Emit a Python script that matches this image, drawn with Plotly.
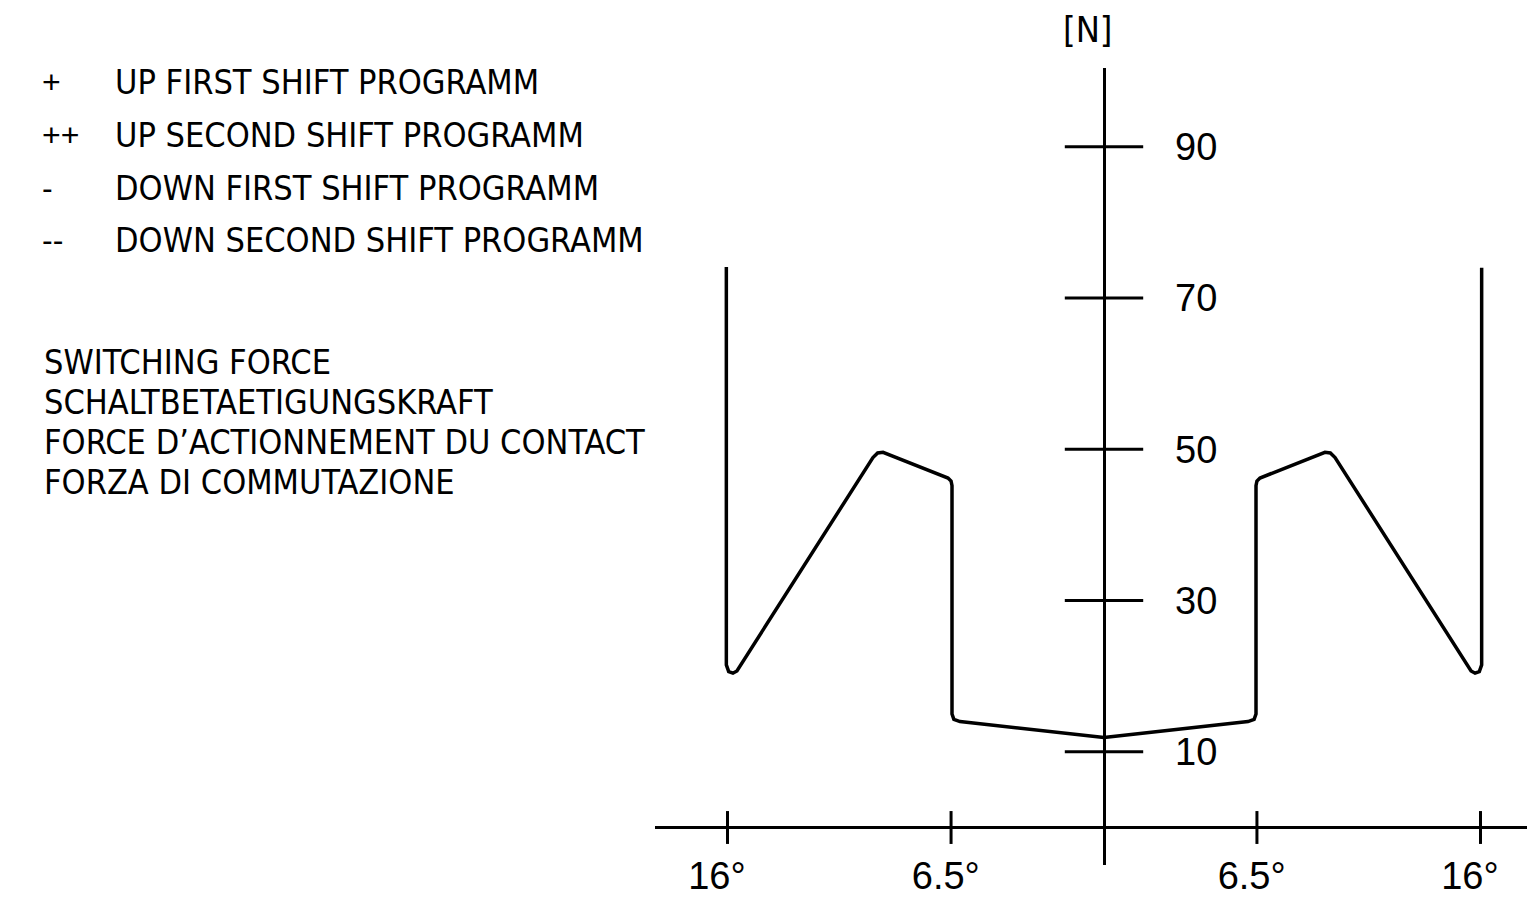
import plotly.graph_objects as go

W, H = 1527, 900

# ---- data (switching force [N] vs. lever angle [deg]) ----
angle_left = [-16.05, -16.05, -15.95, -15.77, -15.60, -9.82, -9.62, -9.39, -6.63, -6.50, -6.46, -6.46, -6.38, -6.12, 0.0]
force_left = [74.1, 21.5, 20.6, 20.4, 20.7, 48.9, 49.5, 49.6, 46.2, 45.8, 45.2, 15.0, 14.3, 14.0, 11.9]
angle_right = [0.0, 6.12, 6.38, 6.46, 6.46, 6.50, 6.63, 9.39, 9.62, 9.82, 15.60, 15.77, 15.95, 16.05, 16.05]
force_right = [11.9, 14.0, 14.3, 15.0, 45.2, 45.8, 46.2, 49.6, 49.5, 48.9, 20.7, 20.4, 20.6, 21.5, 74.0]

y_ticks = [10, 30, 50, 70, 90]
x_ticks = [-16, -6.5, 6.5, 16]
x_tick_text = ["16°\u00a0\u00a0", "6.5°\u00a0", "6.5°\u00a0", "16°\u00a0\u00a0"]
y_unit = "[N]"

legend_symbols = ["+", "++", "-", "--"]
legend_texts = ["UP FIRST SHIFT PROGRAMM", "UP SECOND SHIFT PROGRAMM",
                "DOWN FIRST SHIFT PROGRAMM", "DOWN SECOND SHIFT PROGRAMM"]
title_lines = ["SWITCHING FORCE", "SCHALTBETAETIGUNGSKRAFT",
               "FORCE D’ACTIONNEMENT DU CONTACT", "FORZA DI COMMUTAZIONE"]

# ---- layout geometry (pixels) ----
plot_left, plot_right, plot_top, plot_bottom = 655, 1527, 68, 865
x_label_axis_px = 850
x0_px, px_per_deg = 1104, 23.53
y0_px, px_per_N = 827.5, 7.565

FONT_NARROW = "Liberation Sans Narrow, Arial Narrow, DejaVu Sans Condensed, sans-serif"
FONT_TICK = "Liberation Sans, Arial, sans-serif"
TXT = 34

fig = go.Figure()
line_style = dict(color="black", width=3.5)
fig.add_trace(go.Scatter(x=angle_left, y=force_left, mode="lines", line=line_style,
                         hoverinfo="skip", showlegend=False))
fig.add_trace(go.Scatter(x=angle_right, y=force_right, mode="lines", line=line_style,
                         hoverinfo="skip", showlegend=False))
# crossing tick marks on the axes
fig.add_trace(go.Scatter(x=[0] * len(y_ticks), y=y_ticks, mode="markers",
                         marker=dict(symbol="line-ew", size=56, color="black",
                                     line=dict(color="black", width=3)),
                         hoverinfo="skip", showlegend=False))
fig.add_trace(go.Scatter(x=x_ticks, y=[0] * len(x_ticks), mode="markers",
                         marker=dict(symbol="line-ns", size=23.5, color="black",
                                     line=dict(color="black", width=3)),
                         hoverinfo="skip", showlegend=False))

annotations = []
for i, (s, t) in enumerate(zip(legend_symbols, legend_texts)):
    yc = 82 + i * 52.8
    annotations.append(dict(x=40 / W, y=1 - yc / H, xref="paper", yref="paper", text=s,
                            showarrow=False, xanchor="left", yanchor="middle",
                            font=dict(family=FONT_TICK, size=32, color="black")))
    annotations.append(dict(x=113 / W, y=1 - yc / H, xref="paper", yref="paper", text=t,
                            showarrow=False, xanchor="left", yanchor="middle",
                            font=dict(family=FONT_NARROW, size=TXT, color="black")))
for i, t in enumerate(title_lines):
    yc = 362 + i * 40
    annotations.append(dict(x=42 / W, y=1 - yc / H, xref="paper", yref="paper", text=t,
                            showarrow=False, xanchor="left", yanchor="middle",
                            font=dict(family=FONT_NARROW, size=TXT, color="black")))
annotations.append(dict(x=1088 / W, y=1 - 30 / H, xref="paper", yref="paper", text=y_unit,
                        showarrow=False, xanchor="center", yanchor="middle",
                        font=dict(family=FONT_NARROW, size=36, color="black")))

fig.update_layout(
    width=W, height=H, margin=dict(l=0, r=0, t=0, b=0, autoexpand=False),
    paper_bgcolor="white", plot_bgcolor="white",
    showlegend=False, annotations=annotations,
    xaxis=dict(range=[(plot_left - x0_px) / px_per_deg, (plot_right - x0_px) / px_per_deg],
               domain=[plot_left / W, 1], anchor="free", position=1 - x_label_axis_px / H,
               automargin=False,
               showgrid=False, showline=False, ticks="",
               zeroline=True, zerolinecolor="black", zerolinewidth=3,
               tickvals=x_ticks, ticktext=x_tick_text,
               tickfont=dict(family=FONT_TICK, size=38, color="black")),
    yaxis=dict(range=[(y0_px - plot_bottom) / px_per_N, (y0_px - plot_top) / px_per_N],
               domain=[1 - plot_bottom / H, 1 - plot_top / H], anchor="free",
               position=x0_px / W, side="right", automargin=False,
               showgrid=False, showline=False, ticks="",
               zeroline=True, zerolinecolor="black", zerolinewidth=3,
               tickvals=y_ticks, ticklabelstandoff=70,
               tickfont=dict(family=FONT_TICK, size=38, color="black")),
)

fig.write_html("out.html", config={"displayModeBar": False},
               post_script="document.body.style.margin='0';document.body.style.overflow='hidden';")
